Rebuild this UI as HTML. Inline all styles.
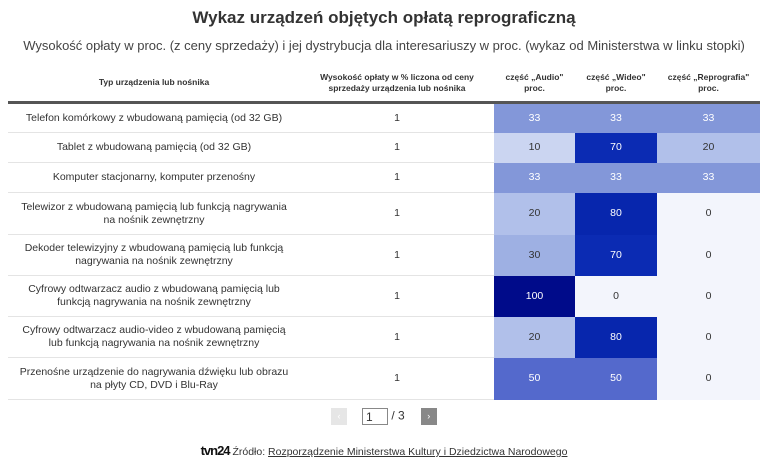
<!DOCTYPE html>
<html><head><meta charset="utf-8"><style>
body{margin:0;width:768px;height:465px;background:#fff;font-family:"Liberation Sans",sans-serif;color:#333;overflow:hidden}
h1{margin:0;position:absolute;top:8px;width:768px;text-align:center;font-size:17px;font-weight:bold;color:#333}
.sub{position:absolute;top:38px;width:768px;text-align:center;font-size:13px;color:#444}
table{position:absolute;left:8px;top:64px;width:752px;border-collapse:collapse;font-size:10.5px}
th{font-size:8.5px;font-weight:bold;color:#333;height:37px;border-bottom:3px solid #555;padding:0 4px;line-height:11px;text-align:center}
td{text-align:center;border-bottom:1px solid #e4e4e4;padding:0 6px;line-height:13px;color:#333}
td.n{color:#fff;border-bottom:none}
td.d{color:#333;border-bottom:none}
.pg{position:absolute;top:408px;left:331px;font-size:12px}
.foot{position:absolute;top:443px;width:768px;text-align:center;font-size:10.5px;color:#333}
</style></head><body>
<h1>Wykaz urządzeń objętych opłatą reprograficzną</h1>
<div class="sub">Wysokość opłaty w proc. (z ceny sprzedaży) i jej dystrybucja dla interesariuszy w proc. (wykaz od Ministerstwa w linku stopki)</div>
<table>
<colgroup><col style="width:292px"><col style="width:194px"><col style="width:81px"><col style="width:82px"><col style="width:103px"></colgroup>
<tr><th>Typ urządzenia lub nośnika</th><th>Wysokość opłaty w % liczona od ceny sprzedaży urządzenia lub nośnika</th><th>część „Audio" proc.</th><th>część „Wideo" proc.</th><th>część „Reprografia" proc.</th></tr>
<tr style="height:30px"><td>Telefon komórkowy z wbudowaną pamięcią (od 32 GB)</td><td>1</td><td class="n" style="background:#8397d9">33</td><td class="n" style="background:#8397d9">33</td><td class="n" style="background:#8397d9">33</td></tr>
<tr style="height:30px"><td>Tablet z wbudowaną pamięcią (od 32 GB)</td><td>1</td><td class="d" style="background:#cbd5f1">10</td><td class="n" style="background:#0b2bb3">70</td><td class="d" style="background:#b1c0ea">20</td></tr>
<tr style="height:30px"><td>Komputer stacjonarny, komputer przenośny</td><td>1</td><td class="n" style="background:#8397d9">33</td><td class="n" style="background:#8397d9">33</td><td class="n" style="background:#8397d9">33</td></tr>
<tr style="height:42px"><td>Telewizor z wbudowaną pamięcią lub funkcją nagrywania na nośnik zewnętrzny</td><td>1</td><td class="d" style="background:#b1c0ea">20</td><td class="n" style="background:#0726ad">80</td><td class="d" style="background:#f3f5fc">0</td></tr>
<tr style="height:41px"><td>Dekoder telewizyjny z wbudowaną pamięcią lub funkcją nagrywania na nośnik zewnętrzny</td><td>1</td><td class="d" style="background:#9eb0e3">30</td><td class="n" style="background:#0b2bb3">70</td><td class="d" style="background:#f3f5fc">0</td></tr>
<tr style="height:41px"><td>Cyfrowy odtwarzacz audio z wbudowaną pamięcią lub funkcją nagrywania na nośnik zewnętrzny</td><td>1</td><td class="n" style="background:#000b8a">100</td><td class="d" style="background:#f3f5fc">0</td><td class="d" style="background:#f3f5fc">0</td></tr>
<tr style="height:41px"><td>Cyfrowy odtwarzacz audio-video z wbudowaną pamięcią lub funkcją nagrywania na nośnik zewnętrzny</td><td>1</td><td class="d" style="background:#b1c0ea">20</td><td class="n" style="background:#0726ad">80</td><td class="d" style="background:#f3f5fc">0</td></tr>
<tr style="height:42px"><td>Przenośne urządzenie do nagrywania dźwięku lub obrazu na płyty CD, DVD i Blu-Ray</td><td>1</td><td class="n" style="background:#5469cc">50</td><td class="n" style="background:#5469cc">50</td><td class="d" style="background:#f3f5fc">0</td></tr>
</table>
<div class="pg"><span style="display:inline-block;width:16px;height:17px;background:#e6e6e6;vertical-align:middle;color:#fff;text-align:center;font-size:9px;line-height:17px">‹</span><span style="display:inline-block;width:26px;height:17px;border:1px solid #888;margin-left:15px;vertical-align:middle;line-height:17px;padding-left:3px;box-sizing:border-box">1</span> / 3<span style="display:inline-block;width:16px;height:17px;background:#888;margin-left:16px;vertical-align:middle;color:#fff;text-align:center;font-size:9px;line-height:17px">›</span></div>
<div class="foot"><b style="font-size:13px;color:#111;letter-spacing:-1px">tvn24</b> Źródło: <u>Rozporządzenie Ministerstwa Kultury i Dziedzictwa Narodowego</u></div>
</body></html>
